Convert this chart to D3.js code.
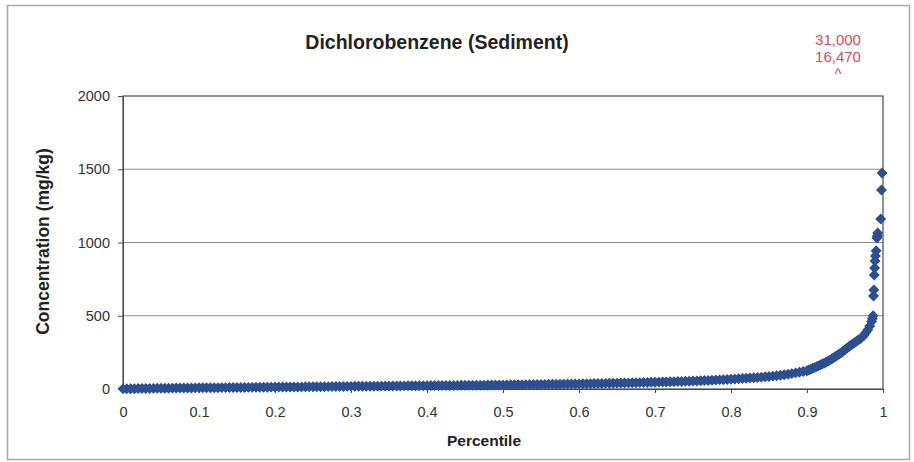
<!DOCTYPE html>
<html><head><meta charset="utf-8">
<script src="https://cdn.jsdelivr.net/npm/d3@7"></script>
<style>
html,body{margin:0;padding:0;background:#fff;}
svg{display:block;font-family:"Liberation Sans",Arial,sans-serif;}
</style></head>
<body>
<svg id="chart" width="914" height="462"></svg>
<script>
const chartTitle = "Dichlorobenzene (Sediment)";
const xAxisTitle = "Percentile";
const yAxisTitle = "Concentration (mg/kg)";
const xTicks = [0,0.1,0.2,0.3,0.4,0.5,0.6,0.7,0.8,0.9,1];
const yTicks = [0,500,1000,1500,2000];
const offScaleLabels = ["31,000","16,470","^"];

const percentiles = [
0,0.005,0.01,0.015,0.02,0.025,0.03,0.035,0.04,0.045,0.05,0.055,0.06,0.065,0.07,0.075,0.08,0.085,0.09,0.095,
0.1,0.105,0.11,0.115,0.12,0.125,0.13,0.135,0.14,0.145,0.15,0.155,0.16,0.165,0.17,0.175,0.18,0.185,0.19,0.195,
0.2,0.205,0.21,0.215,0.22,0.225,0.23,0.235,0.24,0.245,0.25,0.255,0.26,0.265,0.27,0.275,0.28,0.285,0.29,0.295,
0.3,0.305,0.31,0.315,0.32,0.325,0.33,0.335,0.34,0.345,0.35,0.355,0.36,0.365,0.37,0.375,0.38,0.385,0.39,0.395,
0.4,0.405,0.41,0.415,0.42,0.425,0.43,0.435,0.44,0.445,0.45,0.455,0.46,0.465,0.47,0.475,0.48,0.485,0.49,0.495,
0.5,0.505,0.51,0.515,0.52,0.525,0.53,0.535,0.54,0.545,0.55,0.555,0.56,0.565,0.57,0.575,0.58,0.585,0.59,0.595,
0.6,0.605,0.61,0.615,0.62,0.625,0.63,0.635,0.64,0.645,0.65,0.655,0.66,0.665,0.67,0.675,0.68,0.685,0.69,0.695,
0.7,0.705,0.71,0.715,0.72,0.725,0.73,0.735,0.74,0.745,0.75,0.755,0.76,0.765,0.77,0.775,0.78,0.785,0.79,0.795,
0.8,0.805,0.81,0.815,0.82,0.825,0.83,0.835,0.84,0.845,0.85,0.855,0.86,0.865,0.87,0.875,0.88,0.885,0.89,0.895,
0.9,0.9025,0.905,0.9075,0.91,0.9125,0.915,0.9175,0.92,0.9225,0.925,0.9275,0.93,0.9325,0.935,0.9375,0.94,0.9425,0.945,0.9475,
0.95,0.9525,0.955,0.9575,0.96,0.9625,0.965,0.9675,0.97,0.9725,0.975,0.9775,0.98,0.9825,0.985,0.986,0.987,
0.9875,0.988,0.9885,0.989,0.9895,0.99,0.991,0.992,0.9925,0.993,0.997,0.998,0.9988
];
const concentrations = [
1,1.5,2,2.4,3,3.3,3.8,4,4.4,4.8,5,5.3,5.8,6,6.3,6.6,6.9,7.1,7.4,7.8,
8,8.2,8.5,8.6,8.9,9.1,9.4,9.5,9.8,9.9,10,10.4,10.6,11,11.2,11.5,11.9,12.1,12.4,12.8,
13,13.2,13.4,13.7,13.8,14,14.3,14.4,14.7,14.9,15,15.3,15.7,15.9,16.2,16.6,16.8,17.1,17.4,17.8,
18,18.2,18.4,18.7,18.8,19,19.3,19.5,19.7,19.9,20,20.3,20.7,20.9,21.3,21.5,21.8,22.1,22.5,22.7,
23,23.2,23.4,23.6,23.9,24,24.2,24.5,24.7,24.9,25,25.3,25.7,25.9,26.2,26.5,26.9,27.1,27.4,27.8,
28,28.3,28.6,28.9,29.2,29.5,29.9,30.1,30.4,30.8,31,31.5,31.8,32.2,32.6,33,33.4,33.9,34.2,34.6,
35,35.5,36,36.4,37,37.5,38,38.4,39,39.5,40,40.5,41.2,41.8,42.4,43,43.5,44.1,44.8,45.4,
46,46.8,47.6,48.4,49.2,50,50.9,51.6,52.4,53.2,54,55.1,56.3,57.4,58.6,59.9,61,62.3,63.5,64.8,
66,67.8,69.7,71.5,73.4,75.3,77.2,79.1,81,83,85,88,91,94,97,100,105,110,114,119,
125,130,135,141,146,152,158,164,170,176,183,190,197,205,213,222,230,239,248,258,
268,278,288,298,307,316,325,334,343,354,366,385,405,430,460,480,500,
635,676,778,826,874,908,943,1031,1045,1065,1161,1359,1475
];

const svg = d3.select("#chart");
const m = {left:123, right:883, top:96, bottom:389};

// outer frame
svg.append("rect").attr("x",7.5).attr("y",5.5).attr("width",902).attr("height",454)
  .attr("fill","#fff").attr("stroke","#a8a8a8").attr("stroke-width",1.5);

const x = d3.scaleLinear().domain([0,1]).range([m.left,m.right]);
const y = d3.scaleLinear().domain([0,2000]).range([m.bottom,m.top]);

// gridlines
svg.append("g").selectAll("line").data(yTicks.filter(t=>t>0 && t<2000)).join("line")
  .attr("x1",m.left).attr("x2",m.right).attr("y1",d=>y(d)).attr("y2",d=>y(d))
  .attr("stroke","#8c8c8c").attr("stroke-width",1);

// plot border
svg.append("rect").attr("x",m.left).attr("y",m.top).attr("width",m.right-m.left).attr("height",m.bottom-m.top)
  .attr("fill","none").attr("stroke","#4a4a4a").attr("stroke-width",1.2);

// y axis
const yAxis = d3.axisLeft(y).tickValues(yTicks).tickSize(5).tickPadding(8).tickFormat(d3.format("d"));
const gy = svg.append("g").attr("transform",`translate(${m.left},0)`).call(yAxis);
gy.select(".domain").attr("stroke","#4a4a4a");
gy.selectAll(".tick line").attr("stroke","#4a4a4a");
gy.selectAll(".tick text").attr("font-size",14.5).attr("fill","#333").attr("font-family","Liberation Sans, Arial, sans-serif");

// x axis
const xAxis = d3.axisBottom(x).tickValues(xTicks).tickSize(4).tickPadding(14).tickFormat(d=>String(d));
const gx = svg.append("g").attr("transform",`translate(0,${m.bottom})`).call(xAxis);
gx.select(".domain").attr("stroke","#4a4a4a");
gx.selectAll(".tick line").attr("stroke","#4a4a4a");
gx.selectAll(".tick text").attr("font-size",14.5).attr("fill","#333").attr("font-family","Liberation Sans, Arial, sans-serif");

// data markers
const pts = percentiles.map((p,i)=>({p, v:concentrations[i]}));
const sym = d3.symbol().type(d3.symbolSquare).size(60);
svg.append("g").selectAll("path").data(pts).join("path")
  .attr("d",sym())
  .attr("transform",d=>`translate(${x(d.p)},${y(d.v)}) rotate(45)`)
  .attr("fill","#2c4f90");

// titles
svg.append("text").attr("x",437).attr("y",49).attr("text-anchor","middle")
  .attr("font-size",19.5).attr("font-weight","bold").attr("fill","#222").text(chartTitle);
svg.append("text").attr("x",484).attr("y",446).attr("text-anchor","middle")
  .attr("font-size",15.5).attr("font-weight","bold").attr("fill","#222").text(xAxisTitle);
svg.append("text").attr("transform",`translate(49,${(m.top+m.bottom)/2 - 1}) rotate(-90)`)
  .attr("text-anchor","middle").attr("font-size",17.5).attr("font-weight","bold").attr("fill","#222").text(yAxisTitle);

// off-scale annotation
svg.append("g").selectAll("text").data(offScaleLabels).join("text")
  .attr("x",838).attr("y",(d,i)=>45+i*17).attr("text-anchor","middle")
  .attr("font-size",15).attr("fill","#e0475f").text(d=>d);
</script>
</body></html>
